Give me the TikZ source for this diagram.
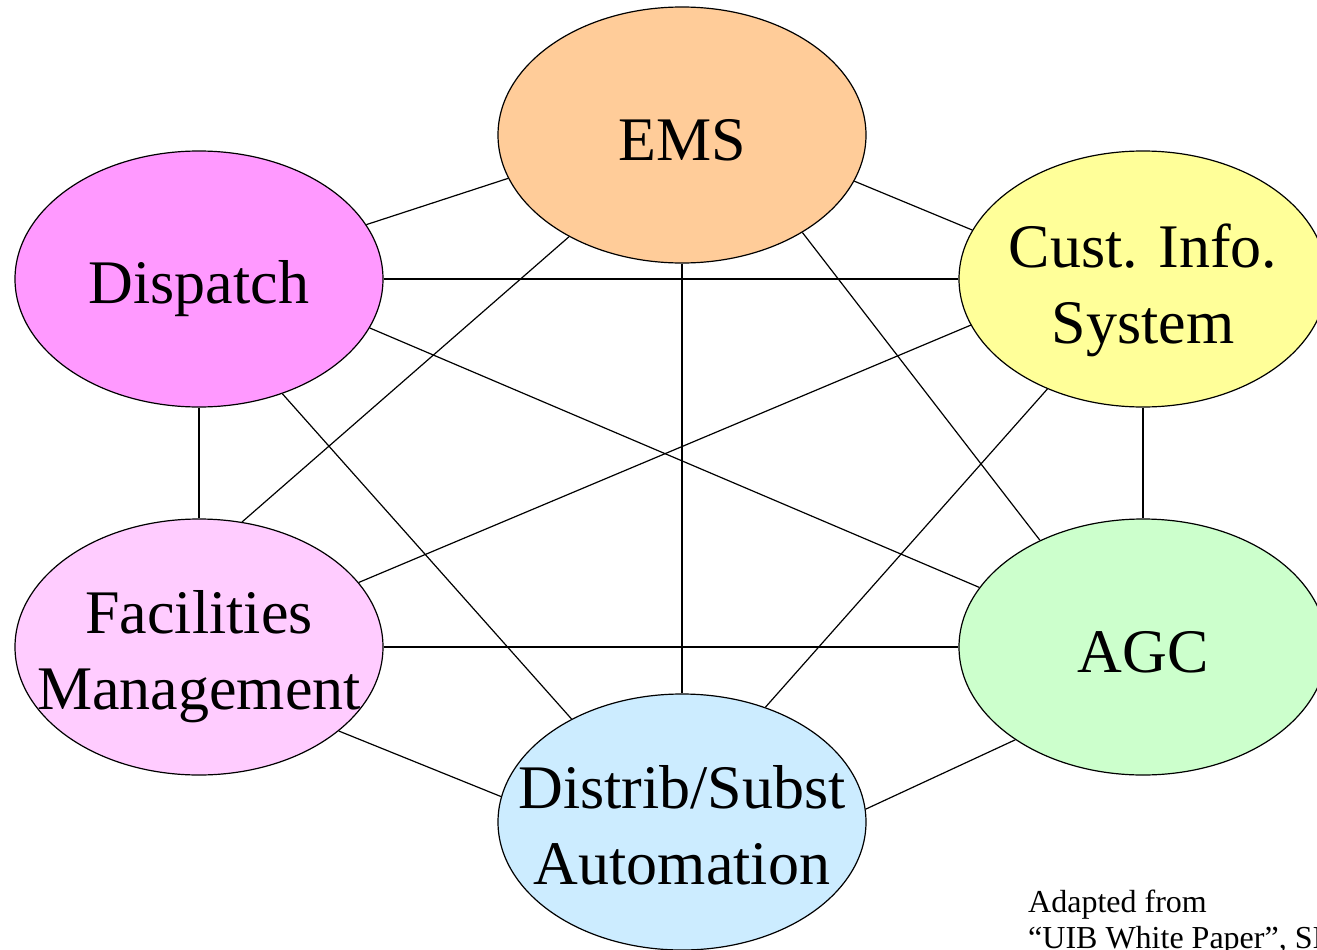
\documentclass[tikz,border=0pt]{standalone}
\usepackage{fontspec}
\setmainfont{Liberation Serif}
\usetikzlibrary{shapes.geometric}
\newcommand{\bubtext}[2]{\makebox[0pt]{\raisebox{#1}[0pt][0pt]{\begin{tabular}[t]{@{}c@{}}#2\end{tabular}}}}
\begin{document}
\begin{tikzpicture}[x=1pt,y=-1pt,
  bubble/.style={ellipse, draw=black, line width=1.2pt, minimum width=368pt, minimum height=256pt, inner sep=0pt, font=\fontsize{62}{76}\selectfont},
  link/.style={draw=black, line width=1.2pt},
  note/.style={anchor=base west, inner sep=0pt, font=\fontsize{32}{36}\selectfont}]
\useasboundingbox (0,0) rectangle (1317,950);
\definecolor{cems}{HTML}{FFCC99}
\definecolor{cdis}{HTML}{FF99FF}
\definecolor{ccust}{HTML}{FFFF99}
\definecolor{cfac}{HTML}{FFCCFF}
\definecolor{cagc}{HTML}{CCFFCC}
\definecolor{cdist}{HTML}{CCECFF}
\node[bubble, fill=cems] (ems) at (682,135) {\bubtext{-25pt}{EMS}};
\node[bubble, fill=cdis] (dis) at (199,279) {\bubtext{-24pt}{Dispatch}};
\node[bubble, fill=ccust] (cust) at (1143,279) {\bubtext{12pt}{Cust. Info.\\System}};
\node[bubble, fill=cfac] (fac) at (199,647) {\bubtext{14pt}{Facilities\\Management}};
\node[bubble, fill=cagc] (agc) at (1143,647) {\bubtext{-25pt}{AGC}};
\node[bubble, fill=cdist] (dist) at (682,822) {\bubtext{14pt}{Distrib/Subst\\Automation}};
\draw[link] (dis.18) -- (ems.194);
\draw[link] (ems.345) -- (cust.164);
\draw[link] (dis.east) -- (cust.west);
\draw[link] (ems.222) -- (fac.71);
\draw[link] (ems.south) -- (dist.north);
\draw[link] (ems.321) -- (agc.134);
\draw[link] (dis.south) -- (fac.north);
\draw[link] (dis.344) -- (agc.160);
\draw[link] (dis.306) -- (dist.137);
\draw[link] (cust.195) -- (fac.22);
\draw[link] (cust.229) -- (dist.54);
\draw[link] (cust.south) -- (agc.north);
\draw[link] (fac.east) -- (agc.west);
\draw[link] (fac.329) -- (dist.172);
\draw[link] (dist.4) -- (agc.216);
\node[note] (note1) at (1028,912) {Adapted from};
\node[note] (note2) at (1028,948) {“UIB White Paper”, SI};
\end{tikzpicture}
\end{document}
